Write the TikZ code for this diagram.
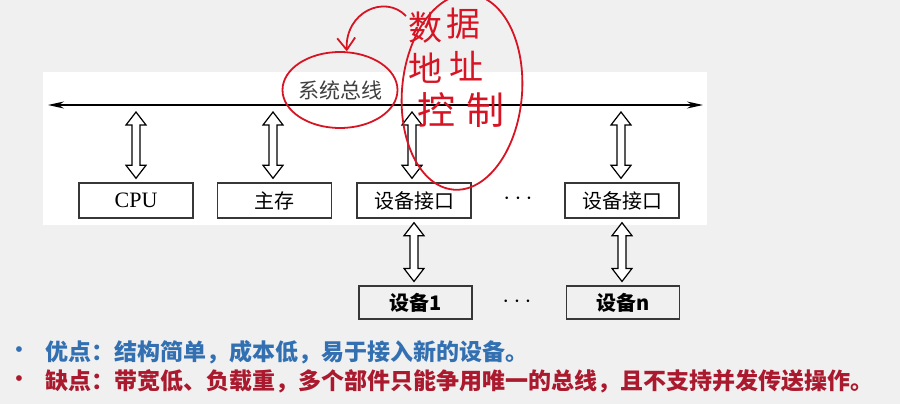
\documentclass[tikz,border=0pt]{standalone}
\usepackage{fontspec}
\setmainfont{Liberation Serif}
\newfontfamily\cjk{Noto Sans CJK SC}
\usetikzlibrary{arrows.meta, calc, shapes.geometric}

\definecolor{bggray}{RGB}{240,240,240}
\definecolor{boxline}{RGB}{55,55,55}
\definecolor{goodblue}{RGB}{50,112,178}
\definecolor{badred}{RGB}{170,25,45}
\definecolor{penred}{RGB}{215,20,35}

\tikzset{
    unit/.style={draw=boxline, line width=1.4pt, minimum width=114pt, minimum height=35pt, inner sep=0pt, font=\fontsize{20}{20}\selectfont},
    dev/.style={draw=boxline, line width=1.1pt, minimum width=113pt, minimum height=33pt, inner sep=0pt, font=\cjk\bfseries\fontsize{20}{20}\selectfont},
    dblarr/.style={draw=black, line width=1.2pt, fill=white, to path={
        let \p1=(\tikztostart), \p2=(\tikztotarget) in
        (\x1,\y1-4pt) -- (\x1+10pt,\y1-17pt) -- (\x1+4pt,\y1-17pt) -- (\x1+4pt,\y2+17pt)
        -- (\x1+10pt,\y2+17pt) -- (\x1,\y2+4pt) -- (\x1-10pt,\y2+17pt) -- (\x1-4pt,\y2+17pt)
        -- (\x1-4pt,\y1-17pt) -- (\x1-10pt,\y1-17pt) -- cycle}},
    hand/.style={text=penred, font=\cjk\fontsize{34}{34}\selectfont}
}

\begin{document}
\begin{tikzpicture}[x=1pt, y=-1pt]
    \useasboundingbox (0, 0) rectangle (900, 404);
    \clip (0, 0) rectangle (900, 404);
    \fill[bggray] (0, 0) rectangle (900, 404);
    \fill[white] (43, 72) rectangle (707, 225);

    % bus
    \coordinate (busL) at (48, 105);
    \coordinate (busR) at (703, 105);
    \draw[line width=1.5pt, {Stealth[length=16pt, width=7pt]}-{Stealth[length=16pt, width=7pt]}] (busL) -- (busR);
    \node[font=\cjk\fontsize{21}{21}\selectfont, text=black!75] at (340, 90) (buslabel) {系统总线};

    % units on the bus
    \node[unit, font=\fontsize{22}{22}\selectfont] at (136, 200.5) (cpu) {CPU};
    \node[unit, font=\cjk\fontsize{20}{20}\selectfont] at (274.5, 200.5) (mem) {主存};
    \node[unit, font=\cjk\fontsize{20}{20}\selectfont] at (414, 200.5) (ifa) {设备接口};
    \node[unit, font=\cjk\fontsize{20}{20}\selectfont] at (622, 200.5) (ifn) {设备接口};
    \node[font=\fontsize{28}{28}\selectfont] at (518, 199) (dotsA) {$\cdots$};

    \coordinate (tapcpu) at (136, 108);
    \coordinate (tapmem) at (273, 108);
    \coordinate (tapifa) at (412, 108);
    \coordinate (tapifn) at (621, 108);

    \draw[dblarr] (tapcpu) to (cpu.north);
    \draw[dblarr] (tapmem) to (mem.north);
    \draw[dblarr] (tapifa) to (ifa.north);
    \draw[dblarr] (tapifn) to (ifn.north);

    % devices
    \node[dev] at (415.5, 302.5) (dev1) {设备1};
    \node[dev] at (623, 302.5) (devn) {设备n};
    \node[font=\fontsize{28}{28}\selectfont] at (517, 302) (dotsB) {$\cdots$};

    \draw[dblarr] (ifa.south) to (dev1.north);
    \draw[dblarr] (ifn.south) to (devn.north);

    % pros and cons
    \node[text=goodblue, font=\fontsize{24}{24}\selectfont] at (19, 352) (bulA) {\textbullet};
    \node[anchor=west, inner sep=0pt, text=goodblue, font=\cjk\bfseries\fontsize{23}{23}\selectfont] at (45, 352) (pro) {优点：结构简单，成本低，易于接入新的设备。};
    \node[text=badred, font=\fontsize{24}{24}\selectfont] at (19, 381) (bulB) {\textbullet};
    \node[anchor=west, inner sep=0pt, text=badred, font=\cjk\bfseries\fontsize{23}{23}\selectfont] at (45, 381) (con) {缺点：带宽低、负载重，多个部件只能争用唯一的总线，且不支持并发传送操作。};

    % red pen notes
    \node[draw=penred, line width=1.8pt, ellipse, minimum width=115pt, minimum height=76pt] at (340, 90) (ring) {};
    \node[draw=penred, line width=1.8pt, ellipse, minimum width=120pt, minimum height=196pt, rotate=-5] at (462, 92) (bigring) {};
    \node[hand] at (425, 28) (hwA) {数};
    \node[hand] at (463, 24) (hwB) {据};
    \node[hand] at (425, 68) (hwC) {地};
    \node[hand] at (466, 66) (hwD) {址};
    \node[hand, font=\cjk\fontsize{38}{38}\selectfont] at (436, 110) (hwE) {控};
    \node[hand, font=\cjk\fontsize{38}{38}\selectfont] at (485, 110) (hwF) {制};
    \coordinate (penstart) at (406, 16);
    \draw[penred, line width=1.8pt, -{Straight Barb[length=12pt, width=18pt]}] (penstart) .. controls (385, -6) and (345, 12) .. (ring.80);
\end{tikzpicture}
\end{document}
